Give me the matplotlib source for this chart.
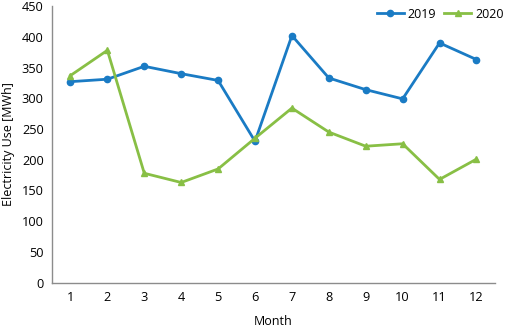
import matplotlib.pyplot as plt

plt.rcParams['font.family'] = ['Open Sans', 'DejaVu Sans']

# monthly electricity use
months = [1, 2, 3, 4, 5, 6, 7, 8, 9, 10, 11, 12]
use_2019 = [327, 331, 352, 340, 329, 230, 402, 333, 314, 299, 390, 363]
use_2020 = [337, 378, 178, 163, 185, 235, 284, 245, 222, 226, 168, 201]

blue = '#1a7bc4'
green = '#88bf45'

fig = plt.figure(figsize=(5.05, 3.27), dpi=100)
ax = fig.add_axes([0.103, 0.1355, 0.877, 0.846])

ax.plot(months, use_2019, '-o', color=blue, lw=2.0, ms=4.5, label='2019')
ax.plot(months, use_2020, '-^', color=green, lw=2.0, ms=4.5, label='2020')

ax.set_xlim(0.5, 12.5)
ax.set_ylim(0, 450)
ax.set_xticks(months)
ax.set_yticks(range(0, 451, 50))
ax.tick_params(length=0, labelsize=9.2, pad=6)

for s in ['top', 'right']:
    ax.spines[s].set_visible(False)
for s in ['left', 'bottom']:
    ax.spines[s].set_color('#8c8c8c')
    ax.spines[s].set_linewidth(1.0)

ax.set_xlabel('Month', fontsize=9, labelpad=8)
ax.set_ylabel('Electricity Use [MWh]', fontsize=9, labelpad=5)

ax.legend(loc='upper right', bbox_to_anchor=(1.045, 1.035), ncol=2, frameon=False,
          fontsize=9, handlelength=2.2, handletextpad=0.3, columnspacing=0.6)

plt.savefig('out.png', dpi=100)
